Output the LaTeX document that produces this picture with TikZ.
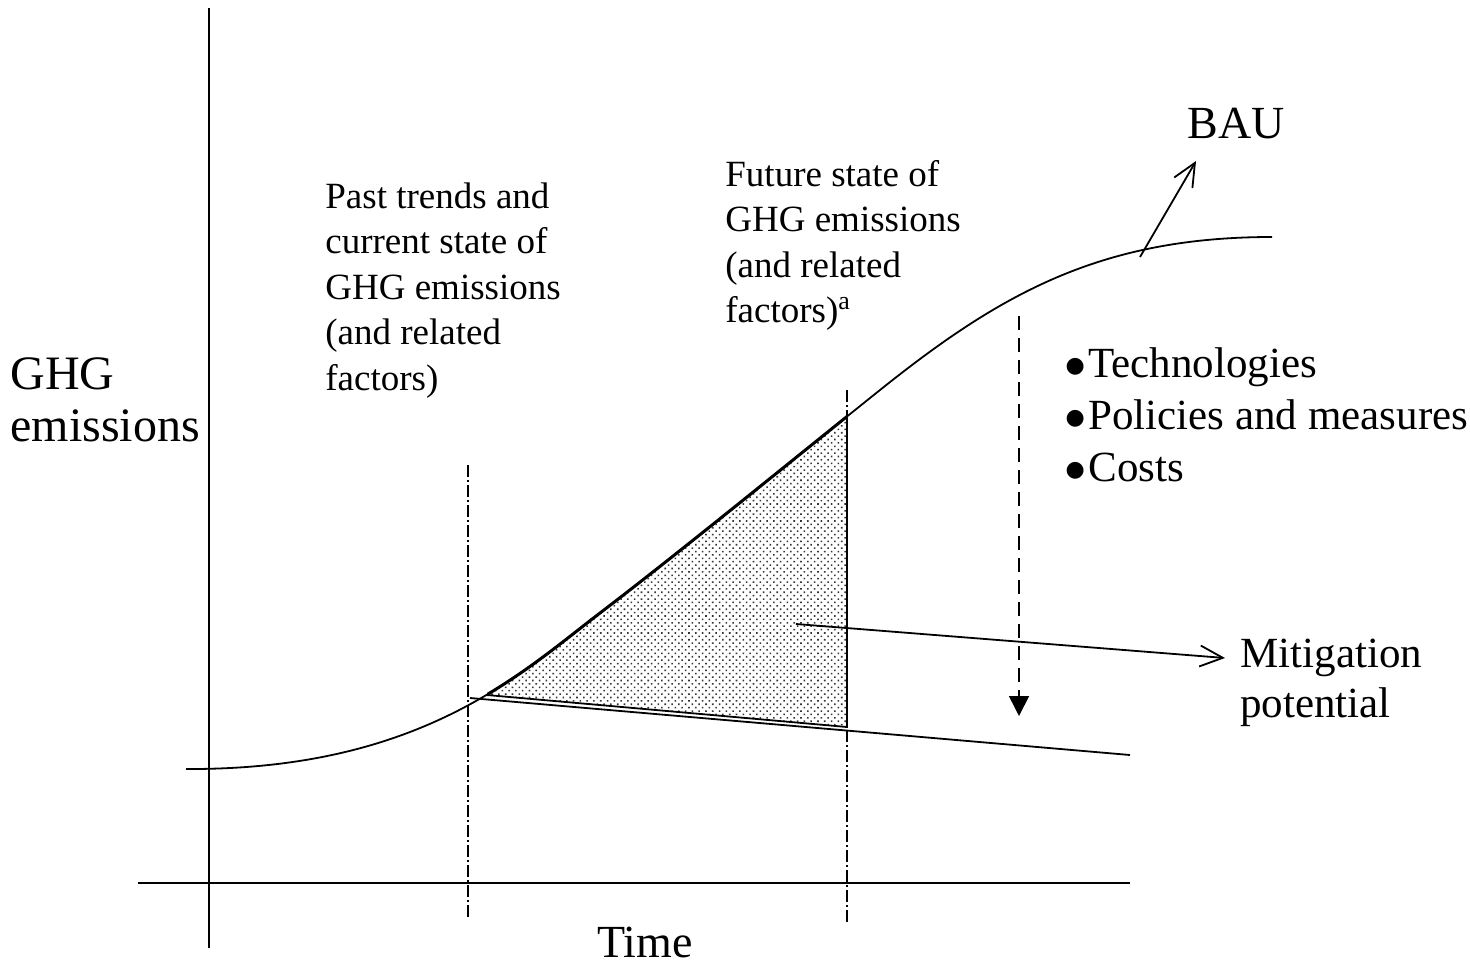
\documentclass[tikz,border=0pt]{standalone}
\usepackage{fontspec}
\setmainfont{Liberation Serif}
\newfontfamily\dvsans{DejaVu Sans}
\usetikzlibrary{arrows.meta,patterns.meta}
\newcommand\bigbul{\hspace{0.6pt}\raisebox{2.2pt}{\fontsize{11}{11}\selectfont\dvsans ●}\hspace{1.8pt}}
\begin{document}
\begin{tikzpicture}[x=0.5pt,y=-0.5pt,
  thinline/.style={line width=0.9pt},
  axisline/.style={line width=1.1pt},
  dashdot/.style={line width=0.8pt, dash pattern=on 6pt off 1.6pt on 0.8pt off 1.6pt},
  barb/.style={thinline,-{Straight Barb[length=11.5pt,width=10.5pt]}},
  txt/.style={inner sep=0pt, anchor=base west},
  smalltext/.style={txt, font=\fontsize{18.5}{22.75}\selectfont},
]
\path[use as bounding box] (0,0) rectangle (1470,969);

% coordinates
\coordinate (yaxT) at (209,8);
\coordinate (yaxB) at (209,948);
\coordinate (xaxL) at (138,883);
\coordinate (xaxR) at (1130,883);
\coordinate (v1T) at (468,465);
\coordinate (v1B) at (468,918);
\coordinate (v2T) at (847,390);
\coordinate (v2B) at (847,925);
\coordinate (mlS) at (470,698);
\coordinate (mlE) at (1130,755);
\coordinate (pL) at (487,695);
\coordinate (pR) at (847,727);
\coordinate (pT) at (847,417);

% shaded mitigation area
\begin{scope}
  \clip (186,769) .. controls (420,770) and (520,674) .. (600,613)
        .. controls (680,552) and (790,462) .. (880,390)
        .. controls (1000,294) and (1100,237) .. (1272,237)
        -- (1272,950) -- (186,950) -- cycle;
  \fill[pattern={Dots[radius=0.55pt,distance=2.4pt,angle=45]}, pattern color=black!80]
        (pL) -- (pR) -- (847,300) -- (487,300) -- cycle;
\end{scope}
\begin{scope}
  \clip (487,200) rectangle (847,760);
  \draw[line width=1.5pt] (186,769) .. controls (420,770) and (520,674) .. (600,613)
        .. controls (680,552) and (790,462) .. (880,390)
        .. controls (1000,294) and (1100,237) .. (1272,237);
\end{scope}
\draw[thinline] (pL) -- (pR) -- (pT);

% axes
\draw[axisline] (yaxT) -- (yaxB);
\draw[axisline] (xaxL) -- (xaxR);

% dash-dot time markers
\draw[dashdot] (v1T) -- (v1B);
\draw[dashdot] (v2T) -- (v2B);

% BAU curve
\draw[thinline] (186,769) .. controls (420,770) and (520,674) .. (600,613)
      .. controls (680,552) and (790,462) .. (880,390)
      .. controls (1000,294) and (1100,237) .. (1272,237);

% mitigation line
\draw[thinline] (mlS) -- (mlE);

% texts
\node[txt, font=\fontsize{24}{26}\selectfont] (ghg) at (10,389)
  {\parbox[t]{150pt}{\raggedright GHG\\ emissions}};
\node[smalltext] (past) at (325,208)
  {\parbox[t]{150pt}{\raggedright Past trends and\\ current state of\\ GHG emissions\\ (and related\\ factors)}};
\node[smalltext] (future) at (725,186)
  {\parbox[t]{150pt}{\raggedright Future state of\\ GHG emissions\\ (and related\\ factors)\textsuperscript{a}}};
\node[txt, font=\fontsize{23}{26}\selectfont] (bau) at (1187,138) {BAU};
\node[txt, font=\fontsize{21.5}{26}\selectfont] (bullets) at (1064,377)
  {\parbox[t]{220pt}{\raggedright \bigbul Technologies\\ \bigbul Policies and measures\\ \bigbul Costs}};
\node[txt, font=\fontsize{21.5}{25}\selectfont] (mitig) at (1240,667)
  {\parbox[t]{120pt}{\raggedright Mitigation\\ potential}};
\node[txt, font=\fontsize{23}{26}\selectfont] (time) at (597,957) {Time};

% arrows
\coordinate (bauS) at (1140,257);
\coordinate (bauE) at (1196,161);
\draw[barb] (bauS) -- (bauE);
\coordinate (mS) at (796,624);
\coordinate (mE) at (1225,658);
\draw[barb] (mS) -- (mE);
\coordinate (dS) at (1019,316);
\coordinate (dE) at (1019,716);
\draw[line width=0.8pt, dash pattern=on 7pt off 4pt, -{Triangle[length=10pt,width=10pt]}] (dS) -- (dE);
\end{tikzpicture}
\end{document}
